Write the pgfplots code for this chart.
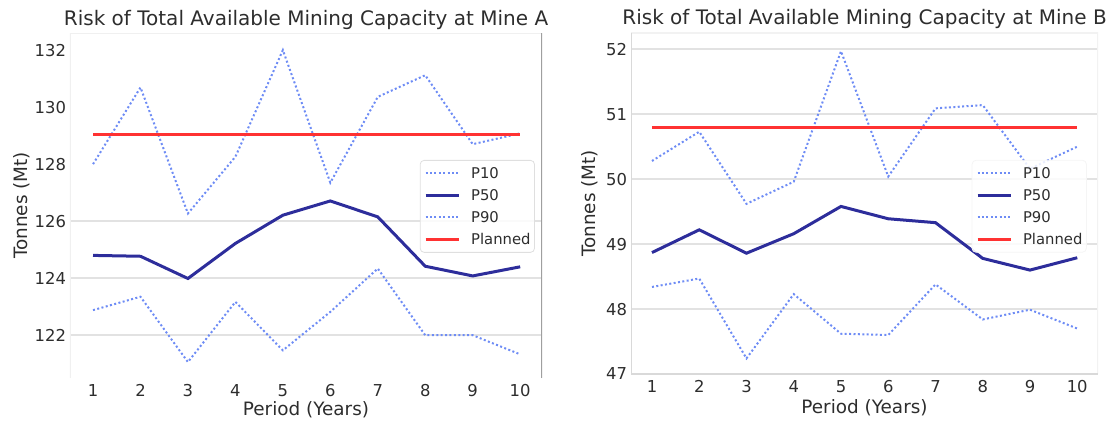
\documentclass[border=0pt]{standalone}
\usepackage{pgfplots}
\pgfplotsset{compat=1.18}
\usepackage{pgfplotstable}
\usepackage{fontspec}
\setmainfont{DejaVu Sans}
\definecolor{pblue}{RGB}{110,140,245}
\definecolor{pnavy}{RGB}{45,45,155}
\definecolor{pred}{RGB}{255,50,50}
\definecolor{tgray}{RGB}{45,45,45}
\definecolor{gridc}{RGB}{226,226,226}

\pgfplotstableread{
x p10 p50 p90 plan
1 128.00 124.80 122.88 129.05
2 130.69 124.77 123.35 129.05
3 126.27 123.99 121.06 129.05
4 128.26 125.22 123.17 129.05
5 132.00 126.21 121.47 129.05
6 127.35 126.71 122.82 129.05
7 130.36 126.15 124.34 129.05
8 131.12 124.42 122.00 129.05
9 128.70 124.08 122.00 129.05
10 129.08 124.40 121.33 129.05
}\mineA

\pgfplotstableread{
x p10 p50 p90 plan
1 50.28 48.87 48.34 50.80
2 50.73 49.22 48.47 50.80
3 49.62 48.86 47.24 50.80
4 49.96 49.16 48.23 50.80
5 51.97 49.58 47.62 50.80
6 50.04 49.39 47.60 50.80
7 51.09 49.33 48.38 50.80
8 51.14 48.78 47.84 50.80
9 50.16 48.60 47.99 50.80
10 50.50 48.79 47.70 50.80
}\mineB

\pgfplotsset{
  every axis title shift=0pt,
  riskstyle/.style={
    scale only axis,
    anchor=south west,
    axis line style={draw=none},
    major tick length=0pt,
    xtick={1,2,...,10},
    /pgf/number format/assume math mode=true,
    ticklabel style={font=\fontsize{8.2}{9}\selectfont, text=tgray},
    xticklabel style={anchor=base, yshift=-9.2pt, inner sep=0pt},
    yticklabel style={anchor=east, inner sep=0pt, xshift=-1.8pt},
    label style={font=\fontsize{9.2}{11}\selectfont, text=tgray},
    xlabel={Period (Years)},
    ylabel={Tonnes (Mt)},
    legend cell align=left,
    legend image code/.code={\draw[##1] (0pt,0pt) -- (16.5pt,0pt);},
    legend style={
      anchor=north east,
      draw=gray!25, rounded corners=2pt, fill=white, fill opacity=0.85, text opacity=1,
      font=\fontsize{7.4}{9}\selectfont, text=tgray,
      inner xsep=2pt, inner ysep=3.8pt,
      nodes={inner sep=0pt, text height=5.4pt, text depth=0pt},
      row sep=5.6pt, column sep=5.5pt,
    },
  },
  pdot/.style={pblue, line width=1pt, dash pattern=on 1pt off 1.2pt},
  pmid/.style={pnavy, line width=1.5pt},
  pplan/.style={pred, line width=1.5pt},
}

\begin{document}
\begin{tikzpicture}
\useasboundingbox (0pt,0pt) rectangle (556pt,212.5pt);

\begin{axis}[riskstyle,
  at={(35pt,23.5pt)}, width=236pt, height=172.5pt,
  xmin=0.515, xmax=10.46, ymin=120.5, ymax=132.6,
  ytick={122,124,...,132},
  extra y ticks={122,124,126}, extra y tick labels={},
  extra y tick style={grid=major, major grid style={gridc, line width=1pt}},
  title={Risk of Total Available Mining Capacity at Mine A},
  title style={at={(axis description cs:0.5,1.0232)}, anchor=base, inner sep=0pt,
    font=\fontsize{10}{12}\selectfont, text=tgray},
  xlabel style={at={(axis description cs:0.5,-0.110)}, anchor=base},
  ylabel style={at={(axis description cs:-0.0911,0.5)}, anchor=base},
  legend style={at={(0.985,0.632)}},
]
\draw[gray!12, line width=0.8pt] (rel axis cs:0,0) -- (rel axis cs:0,1) -- (rel axis cs:1,1);
\draw[gray!75, line width=0.8pt] (rel axis cs:1,0) -- (rel axis cs:1,1);
\addplot[pdot] table[x=x,y=p10] {\mineA};
\addlegendentry{P10}
\addplot[pmid] table[x=x,y=p50] {\mineA};
\addlegendentry{P50}
\addplot[pdot] table[x=x,y=p90] {\mineA};
\addlegendentry{P90}
\addplot[pplan] table[x=x,y=plan] {\mineA};
\addlegendentry{Planned}
\end{axis}

\begin{axis}[riskstyle,
  at={(315.5pt,25.5pt)}, width=233.5pt, height=170.5pt,
  xmin=0.556, xmax=10.44, ymin=47, ymax=52.25,
  ytick={47,48,...,52},
  ymajorgrids, major grid style={gridc, line width=1pt},
  title={Risk of Total Available Mining Capacity at Mine B},
  title style={at={(axis description cs:0.5,1.0235)}, anchor=base, inner sep=0pt,
    font=\fontsize{10}{12}\selectfont, text=tgray},
  xlabel style={at={(axis description cs:0.5,-0.117)}, anchor=base},
  ylabel style={at={(axis description cs:-0.075,0.5)}, anchor=base},
  legend style={at={(0.976,0.628)}, draw=gray!8},
]
\draw[gray!10, line width=0.8pt] (rel axis cs:0,1) -- (rel axis cs:1,1) -- (rel axis cs:1,0);
\draw[gray!30, line width=1pt] (rel axis cs:0,1) -- (rel axis cs:0,0) -- (rel axis cs:1,0);
\addplot[pdot] table[x=x,y=p10] {\mineB};
\addlegendentry{P10}
\addplot[pmid] table[x=x,y=p50] {\mineB};
\addlegendentry{P50}
\addplot[pdot] table[x=x,y=p90] {\mineB};
\addlegendentry{P90}
\addplot[pplan] table[x=x,y=plan] {\mineB};
\addlegendentry{Planned}
\end{axis}
\end{tikzpicture}
\end{document}
